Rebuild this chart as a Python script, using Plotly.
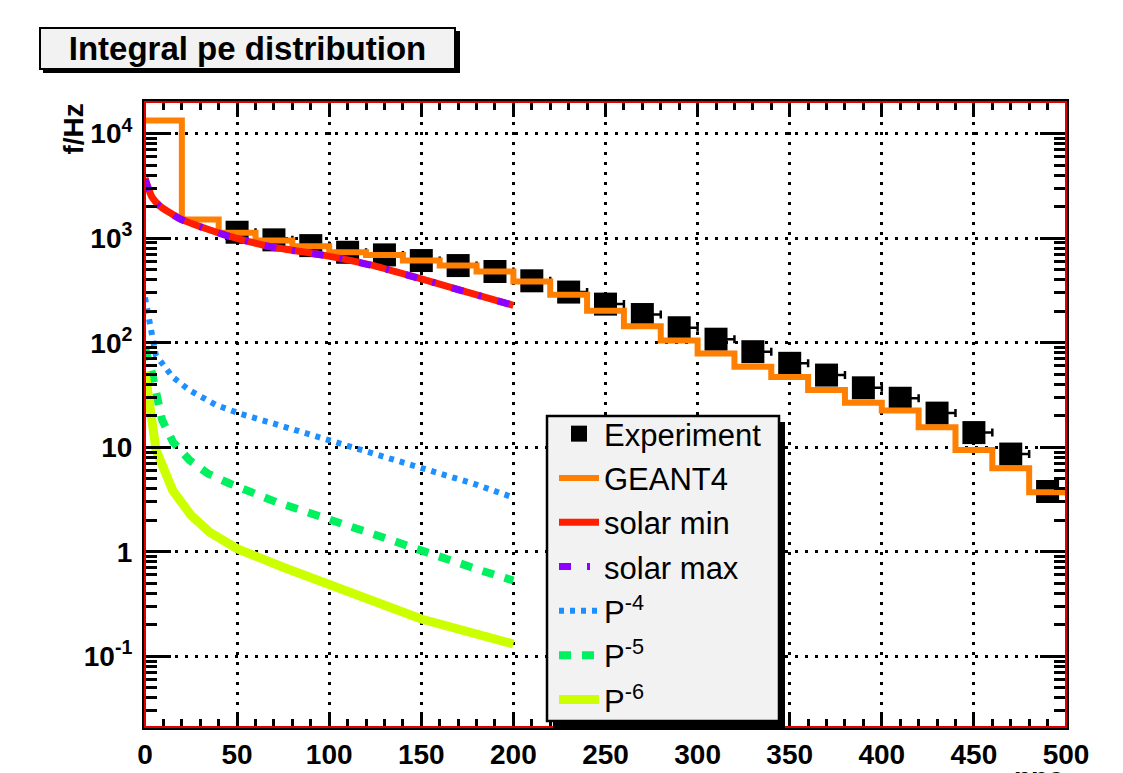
import plotly.graph_objects as go

# ---------------- data ----------------
exp_x = [50, 70, 90, 110, 130, 150, 170, 190, 210, 230, 250, 270, 290, 310, 330,
         350, 370, 390, 410, 430, 450, 470, 490]
exp_y = [1140, 964, 849, 733, 692, 611, 547, 480, 391, 305, 234, 186, 139, 108, 82,
         63.5, 49, 37, 29.4, 21.2, 13.8, 8.6, 3.77]
exp_xerr_plus = [10] * len(exp_x)
exp_xerr_minus = [0] * len(exp_x)

g4_edges = [0, 20, 40, 60, 80, 100, 120, 140, 160, 180, 200, 220, 240, 260, 280,
            300, 320, 340, 360, 380, 400, 420, 440, 460, 480, 500]
g4_vals = [13400, 1510, 1125, 948, 835, 733, 690, 611, 547, 480, 385, 287, 202, 144,
           105, 79, 59, 47, 35.3, 26.7, 22.4, 15.5, 9.4, 6.3, 3.7]

solar_x = [0, 3.8, 8.4, 19.2, 31, 44.6, 69.9, 95.2, 122.4, 147.7, 173, 200]
solar_min = [3750, 2470, 2010, 1530, 1270, 1060, 818, 697, 555, 419, 312, 228]
solar_max = [3650, 2430, 1990, 1520, 1265, 1055, 815, 694, 553, 418, 311, 228]

p4_x = [0, 1.7, 3.5, 5.9, 15, 24.2, 38.7, 51.4, 69.5, 87.6, 105.7, 123.8, 141.9, 160, 178, 200]
p4_y = [270, 191, 124, 76, 47, 35, 25.3, 21, 16.9, 13.5, 10.8, 8.7, 7.0, 5.6, 4.5, 3.3]

p5_x = [0, 3.4, 9.3, 15.2, 24.2, 34.1, 45.9, 58.6, 71.2, 83.9, 96.5, 109, 121.7,
        134.4, 147, 159.7, 172.3, 185, 200]
p5_y = [88, 55, 18.2, 11.2, 7.5, 5.6, 4.5, 3.65, 2.99, 2.53, 2.15, 1.79, 1.54,
        1.28, 1.07, 0.89, 0.74, 0.64, 0.53]

p6_x = [0, 3, 6, 15, 25, 35, 50, 75, 100, 125, 150, 200]
p6_y = [52.7, 21, 9.4, 3.87, 2.23, 1.54, 1.07, 0.71, 0.49, 0.34, 0.227, 0.131]

y_tickvals = [0.1, 1, 10, 100, 1000, 10000]
y_ticktext = ["10<sup>-1</sup>", "1", "10", "10<sup>2</sup>", "10<sup>3</sup>", "10<sup>4</sup>"]

# ---------------- layout geometry (page pixels; page body has an 8px margin) ----------------
OFF = 8
W, H = 1123 - OFF, 773 - OFF
L, R, T, B = 145 - OFF, 57, 102 - OFF, 46
PW, PH = W - L - R, H - T - B


def px_x(p):
    return (p - OFF - L) / PW


def px_y(p):
    return (H - B - (p - OFF)) / PH


FONT = "Liberation Sans, Arial, Helvetica, sans-serif"

fig = go.Figure()

fig.add_trace(go.Scatter(
    x=exp_x, y=exp_y, mode="markers", name="Experiment", legendgroup="a",
    marker=dict(symbol="square", size=23, color="black"),
    error_x=dict(type="data", symmetric=False, array=exp_xerr_plus,
                 arrayminus=exp_xerr_minus, color="black", thickness=2.5, width=4),
))

g4_y = g4_vals + [g4_vals[-1]]
fig.add_trace(go.Scatter(
    x=g4_edges, y=g4_y, mode="lines", name="GEANT4", legendgroup="b",
    line=dict(color="#FF7F00", width=6, shape="hv"),
))
fig.add_trace(go.Scatter(
    x=solar_x, y=solar_min, mode="lines", name="solar min", legendgroup="c",
    line=dict(color="#FF1E00", width=7, shape="spline", smoothing=0.6),
))
fig.add_trace(go.Scatter(
    x=solar_x, y=solar_max, mode="lines", name="solar max", legendgroup="d",
    line=dict(color="#8C00FF", width=7, dash="12px,16px,3px,17px", shape="spline", smoothing=0.6),
))
fig.add_trace(go.Scatter(
    x=p4_x, y=p4_y, mode="lines", name="P<sup>-4</sup>", legendgroup="e",
    line=dict(color="#1E8FFF", width=6, dash="5px,6px"),
))
fig.add_trace(go.Scatter(
    x=p5_x, y=p5_y, mode="lines", name="P<sup>-5</sup>", legendgroup="f",
    line=dict(color="#00F060", width=8, dash="12px,11px"),
))
fig.add_trace(go.Scatter(
    x=p6_x, y=p6_y, mode="lines", name="P<sup>-6</sup>", legendgroup="g",
    line=dict(color="#CCFF00", width=9),
))

minor_y = [k * 10 ** d for d in range(-2, 5) for k in range(2, 10)]

fig.update_layout(
    width=W, height=H,
    margin=dict(l=L, r=R, t=T, b=B, autoexpand=False),
    paper_bgcolor="white", plot_bgcolor="white",
    font=dict(family=FONT, color="black"),
    showlegend=True,
    legend=dict(
        x=px_x(554), y=px_y(407), xanchor="left", yanchor="top",
        bgcolor="rgba(0,0,0,0)", borderwidth=0,
        font=dict(family=FONT, size=31, color="black"),
        tracegroupgap=1, itemwidth=40,
    ),
    xaxis=dict(
        range=[0, 500], dtick=50, tick0=0,
        ticks="inside", ticklen=15, tickwidth=3, tickcolor="black",
        showline=True, linecolor="black", linewidth=3, mirror="allticks",
        showgrid=True, gridcolor="black", griddash="3px,7px", gridwidth=2.5,
        zeroline=False,
        tickfont=dict(family=FONT, size=28, color="black", weight="bold"),
        minor=dict(dtick=10, ticks="inside", ticklen=8, tickwidth=2.5,
                   tickcolor="black", showgrid=False),
    ),
    yaxis=dict(
        type="log", range=[-1.677, 4.303],
        tickmode="array", tickvals=y_tickvals, ticktext=y_ticktext,
        ticks="inside", ticklen=26, tickwidth=3, tickcolor="black",
        showline=True, linecolor="black", linewidth=3, mirror="allticks",
        showgrid=True, gridcolor="black", griddash="3px,7px", gridwidth=2.5,
        zeroline=False, ticklabelstandoff=4,
        tickfont=dict(family=FONT, size=28, color="black", weight="bold"),
        minor=dict(tickmode="array", tickvals=minor_y, ticks="inside", ticklen=12,
                   tickwidth=2.5, tickcolor="black", showgrid=False),
    ),
)

shapes = [
    # red frame just inside the axes
    dict(type="rect", xref="paper", yref="paper", x0=0, x1=1, y0=0, y1=1,
         line=dict(color="#E00000", width=2), layer="above"),
    # legend shadow
    dict(type="rect", xref="paper", yref="paper",
         x0=px_x(553), x1=px_x(785), y0=px_y(422), y1=px_y(728),
         fillcolor="black", line=dict(width=0), layer="above"),
    # legend box
    dict(type="rect", xref="paper", yref="paper",
         x0=px_x(547), x1=px_x(779), y0=px_y(416), y1=px_y(721),
         fillcolor="#F2F2F2", line=dict(color="black", width=2.5), layer="above"),
    # title shadow
    dict(type="rect", xref="paper", yref="paper",
         x0=px_x(43), x1=px_x(460), y0=px_y(31), y1=px_y(73),
         fillcolor="black", line=dict(width=0), layer="above"),
]
fig.update_layout(shapes=shapes)

fig.add_annotation(
    x=px_x(247.5), y=px_y(48.7), xref="paper", yref="paper",
    xanchor="center", yanchor="middle",
    text="<b>Integral pe distribution</b>", showarrow=False,
    width=413, height=39, bgcolor="#F2F2F2", bordercolor="black", borderwidth=2,
    borderpad=0, font=dict(family=FONT, size=33, color="black"),
)
fig.add_annotation(
    x=px_x(73), y=px_y(102), xref="paper", yref="paper",
    xanchor="center", yanchor="top", textangle=-90,
    text="<b>f/Hz</b>", showarrow=False,
    font=dict(family=FONT, size=28, color="black"),
)
fig.add_annotation(
    x=px_x(1066), y=px_y(777), xref="paper", yref="paper",
    xanchor="right", yanchor="middle",
    text="<b>npe</b>", showarrow=False,
    font=dict(family=FONT, size=28, color="black"),
)

fig.write_html("out.html")
